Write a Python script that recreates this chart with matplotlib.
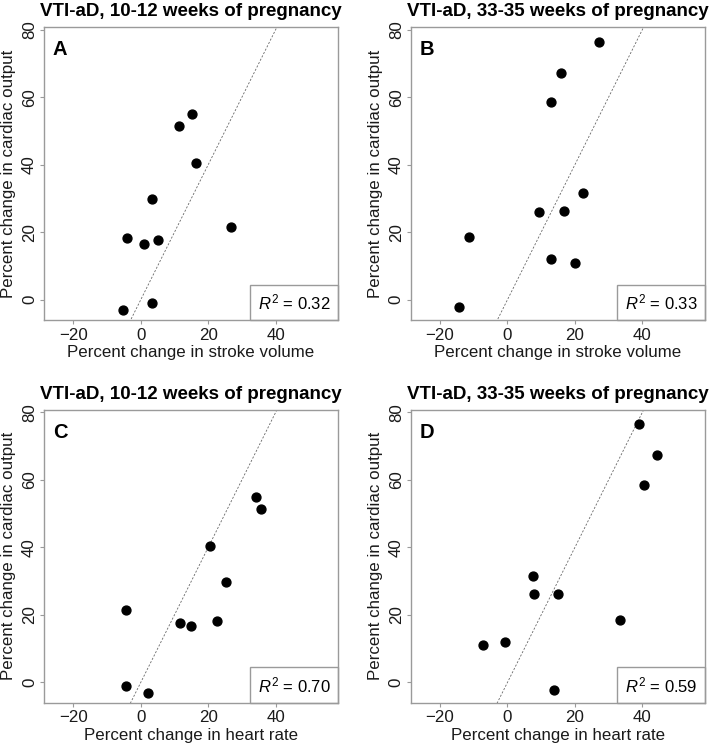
import matplotlib
matplotlib.use("Agg")
import matplotlib.pyplot as plt
from matplotlib.patches import Rectangle

plt.rcParams['font.family'] = ['Liberation Sans', 'DejaVu Sans']
plt.rcParams['mathtext.fontset'] = 'custom'
plt.rcParams['mathtext.rm'] = 'Liberation Sans'
plt.rcParams['mathtext.it'] = 'Liberation Sans:italic'
plt.rcParams['mathtext.bf'] = 'Liberation Sans:bold'

# Data
co_early = [55.0, 51.4, 40.4, 29.8, 21.4, 18.2, 16.6, 17.6, -1.0, -3.1]
sv_early = [15.1, 11.4, 16.4, 3.2, 26.9, -4.1, 1.0, 5.1, 3.2, -5.3]
hr_early = [34.3, 35.7, 20.4, 25.3, -4.5, 22.6, 15.0, 11.7, -4.5, 2.1]

co_late = [76.5, 67.3, 58.6, 31.5, 26.1, 26.2, 18.6, 12.0, 11.0, -2.2]
sv_late = [27.2, 15.9, 12.9, 22.3, 9.5, 16.9, -11.3, 12.9, 19.9, -14.5]
hr_late = [38.9, 44.5, 40.6, 7.6, 15.1, 8.0, 33.5, -0.8, -7.4, 13.9]

titles = ["VTI-aD, 10-12 weeks of pregnancy", "VTI-aD, 33-35 weeks of pregnancy",
          "VTI-aD, 10-12 weeks of pregnancy", "VTI-aD, 33-35 weeks of pregnancy"]
letters = ["A", "B", "C", "D"]
xlabels = ["Percent change in stroke volume", "Percent change in stroke volume",
           "Percent change in heart rate", "Percent change in heart rate"]
ylabel = "Percent change in cardiac output"
r2 = ["0.32", "0.33", "0.70", "0.59"]
xticks = [-20, 0, 20, 40]
yticks = [0, 20, 40, 60, 80]
ref_slope = 2.0

panels = [(sv_early, co_early), (sv_late, co_late), (hr_early, co_early), (hr_late, co_late)]

W, H = 709, 746
fig = plt.figure(figsize=(W / 100, H / 100), dpi=100)

positions = [(44, 27), (410.7, 27), (44, 409.7), (410.7, 409.7)]
aw, ah = 294, 293.3
frame_col = "#9a9a9a"

for i, ((x, y), (px, py)) in enumerate(zip(panels, positions)):
    ax = fig.add_axes([px / W, 1 - (py + ah) / H, aw / W, ah / H])
    xlim = (-28.7, 58.5)
    ylim = (-6.1, 80.8)
    ax.set_xlim(*xlim)
    ax.set_ylim(*ylim)
    # reference line y = 2x
    xs = [xlim[0], xlim[1]]
    ax.plot(xs, [ref_slope * v for v in xs], linestyle=(0, (2.5, 2)), color="#666666", lw=0.6)
    ax.plot(x, y, 'o', color='black', markersize=6.4, zorder=3)
    for s in ax.spines.values():
        s.set_color(frame_col)
        s.set_linewidth(1.0)
    ax.set_xticks(xticks)
    ax.set_xticklabels(["\u221220", "0", "20", "40"])
    ax.set_yticks(yticks)
    ax.set_yticklabels([str(v) for v in yticks], rotation=90, va='center')
    ax.tick_params(axis='both', colors=frame_col, labelcolor="#1a1a1a", length=3, width=0.8,
                   labelsize=12.2)
    ax.tick_params(axis='x', pad=2.2)
    ax.tick_params(axis='y', pad=2.0)
    ax.set_xlabel(xlabels[i], fontsize=12.2, color="#1a1a1a", labelpad=2)
    ax.set_ylabel(ylabel, fontsize=12.2, color="#1a1a1a", labelpad=4)
    ax.set_title(titles[i], fontsize=13.5, fontweight='bold', pad=8)
    ax.text(0.03, 0.955, letters[i], transform=ax.transAxes, fontsize=14.5,
            fontweight='bold', ha='left', va='top')
    # R^2 box
    bw, bh = 0.298, 0.122
    ax.add_patch(Rectangle((1 - bw, 0), bw, bh, transform=ax.transAxes, fill=False,
                           edgecolor=frame_col, lw=1.0, zorder=4, clip_on=False))
    ax.text(1 - bw / 2, bh / 2, r"$R^2$" + " = " + r2[i], transform=ax.transAxes,
            ha='center', va='center', fontsize=12, zorder=5)

fig.savefig("out.png", dpi=100)
